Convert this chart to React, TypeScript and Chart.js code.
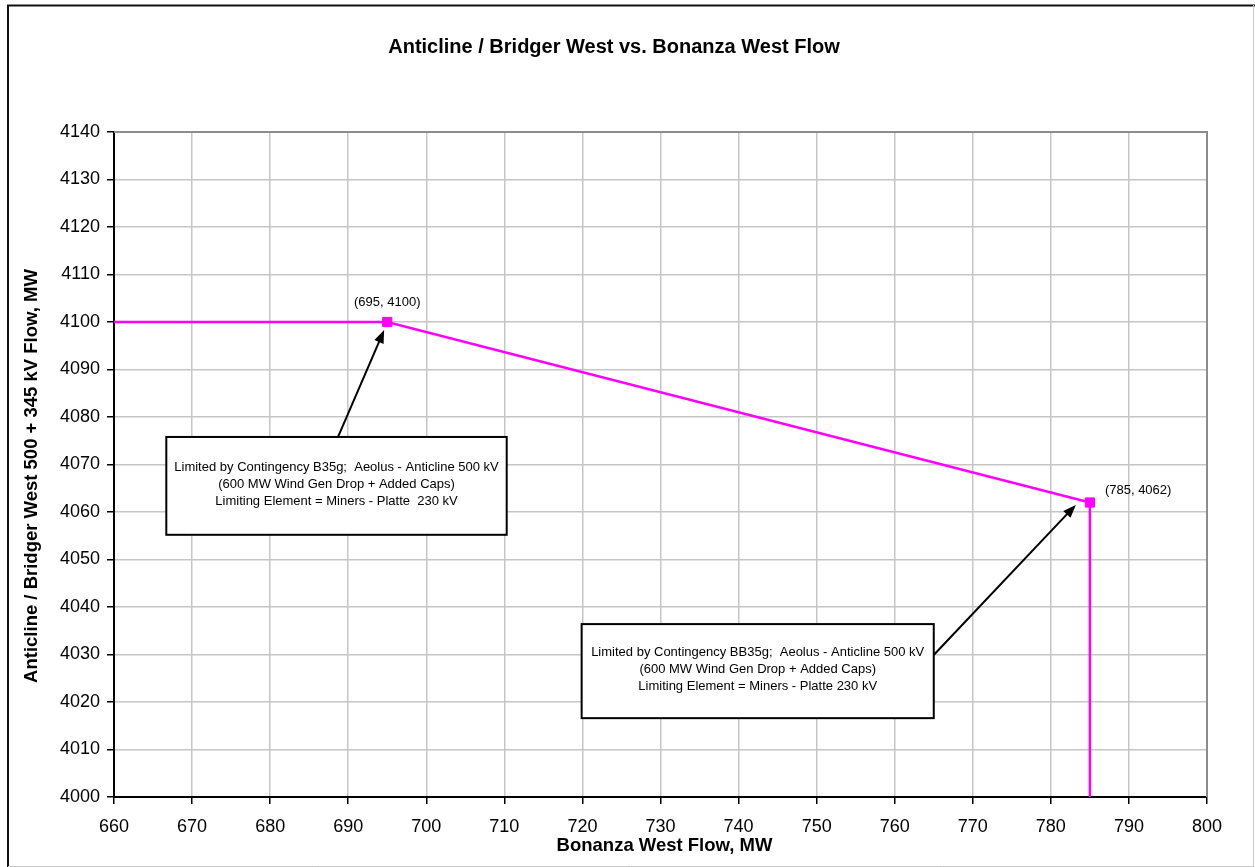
import React, { useEffect, useRef } from "react";
import { Chart, registerables } from "chart.js";

Chart.register(...registerables);

// ---------------- data ----------------
const chartTitle = "Anticline / Bridger West vs. Bonanza West Flow";
const xAxisTitle = "Bonanza West Flow, MW";
const yAxisTitle = "Anticline / Bridger West 500 + 345 kV Flow, MW";

const flowX = [660, 695, 785, 785];
const flowY = [4100, 4100, 4062, 4000];
const markerShown = [false, true, true, false];

const xTickValues = [660, 670, 680, 690, 700, 710, 720, 730, 740, 750, 760, 770, 780, 790, 800];
const yTickValues = [4000, 4010, 4020, 4030, 4040, 4050, 4060, 4070, 4080, 4090, 4100, 4110, 4120, 4130, 4140];

const pointLabelTexts = ["(695, 4100)", "(785, 4062)"];
const pointLabelX = [695, 785];
const pointLabelY = [4100, 4062];

const note1Lines = [
  "Limited by Contingency B35g;  Aeolus - Anticline 500 kV",
  "(600 MW Wind Gen Drop + Added Caps)",
  "Limiting Element = Miners - Platte  230 kV",
];
const note2Lines = [
  "Limited by Contingency BB35g;  Aeolus - Anticline 500 kV",
  "(600 MW Wind Gen Drop + Added Caps)",
  "Limiting Element = Miners - Platte 230 kV",
];

// ---------------- annotation placement (data units) ----------------
const noteBoxes = [
  { x0: 666.7, x1: 710.3, y0: 4055.2, y1: 4075.8, lines: note1Lines },
  { x0: 719.9, x1: 765.0, y0: 4016.6, y1: 4036.4, lines: note2Lines },
];
const noteArrows = [
  { fx: 688.7, fy: 4075.8, tx: 694.6, ty: 4098.3 },
  { fx: 765.0, fy: 4029.9, tx: 783.2, ty: 4061.5 },
];
const pointLabelStyle = [
  { dx: 0, dy: -20, align: "center" as CanvasTextAlign },
  { dx: 15, dy: -12, align: "left" as CanvasTextAlign },
];

const FONT = '"Liberation Sans", Arial, Helvetica, sans-serif';
const MAGENTA = "#ff00ff";

const decorPlugin = {
  id: "decor",
  beforeDraw(chart: any) {
    const ctx: CanvasRenderingContext2D = chart.ctx;
    const W = chart.width;
    const H = chart.height;
    ctx.save();
    ctx.fillStyle = "#ffffff";
    ctx.fillRect(0, 0, W, H);
    // outer frame
    ctx.strokeStyle = "#111";
    ctx.lineWidth = 2;
    ctx.beginPath();
    ctx.moveTo(8, H);
    ctx.lineTo(8, 5.5);
    ctx.lineTo(W, 5.5);
    ctx.stroke();
    ctx.strokeStyle = "#c8c8c8";
    ctx.lineWidth = 1;
    ctx.beginPath();
    ctx.moveTo(1253.5, 5);
    ctx.lineTo(1253.5, H);
    ctx.moveTo(8, 866.5);
    ctx.lineTo(1253.5, 866.5);
    ctx.stroke();
    ctx.restore();
  },
  afterDraw(chart: any) {
    const ctx: CanvasRenderingContext2D = chart.ctx;
    const { left, right, top, bottom } = chart.chartArea;
    const xs = chart.scales.x;
    const ys = chart.scales.y;
    ctx.save();

    // plot frame top/right (gray)
    ctx.strokeStyle = "#8c8c8c";
    ctx.lineWidth = 2;
    ctx.beginPath();
    ctx.moveTo(left, top);
    ctx.lineTo(right, top);
    ctx.lineTo(right, bottom);
    ctx.stroke();

    // titles
    ctx.fillStyle = "#000";
    ctx.textAlign = "center";
    ctx.textBaseline = "middle";
    ctx.font = `bold 20px ${FONT}`;
    ctx.fillText(chartTitle, 614, 47);
    ctx.font = `bold 18.5px ${FONT}`;
    ctx.fillText(xAxisTitle, (left + right) / 2 + 4, 846);
    ctx.save();
    ctx.translate(32, 476);
    ctx.rotate(-Math.PI / 2);
    ctx.fillText(yAxisTitle, 0, 0);
    ctx.restore();

    // arrows
    noteArrows.forEach((a) => {
      const x1 = xs.getPixelForValue(a.fx);
      const y1 = ys.getPixelForValue(a.fy);
      const x2 = xs.getPixelForValue(a.tx);
      const y2 = ys.getPixelForValue(a.ty);
      const ang = Math.atan2(y2 - y1, x2 - x1);
      const headLen = 13;
      const headHalf = 5;
      ctx.strokeStyle = "#000";
      ctx.fillStyle = "#000";
      ctx.lineWidth = 2;
      ctx.beginPath();
      ctx.moveTo(x1, y1);
      ctx.lineTo(x2 - Math.cos(ang) * headLen * 0.8, y2 - Math.sin(ang) * headLen * 0.8);
      ctx.stroke();
      ctx.beginPath();
      ctx.moveTo(x2, y2);
      ctx.lineTo(
        x2 - Math.cos(ang) * headLen + Math.sin(ang) * headHalf,
        y2 - Math.sin(ang) * headLen - Math.cos(ang) * headHalf
      );
      ctx.lineTo(
        x2 - Math.cos(ang) * headLen - Math.sin(ang) * headHalf,
        y2 - Math.sin(ang) * headLen + Math.cos(ang) * headHalf
      );
      ctx.closePath();
      ctx.fill();
    });

    // note boxes
    noteBoxes.forEach((b) => {
      const l = xs.getPixelForValue(b.x0);
      const r = xs.getPixelForValue(b.x1);
      const t = ys.getPixelForValue(b.y1);
      const btm = ys.getPixelForValue(b.y0);
      ctx.fillStyle = "#fff";
      ctx.fillRect(l, t, r - l, btm - t);
      ctx.strokeStyle = "#000";
      ctx.lineWidth = 2;
      ctx.strokeRect(l, t, r - l, btm - t);
      ctx.fillStyle = "#000";
      ctx.font = `13px ${FONT}`;
      ctx.textAlign = "center";
      ctx.textBaseline = "middle";
      const cx = (l + r) / 2;
      const cy = (t + btm) / 2 - 1.5;
      const gap = 17.2;
      b.lines.forEach((line, i) => {
        ctx.fillText(line, cx, cy + (i - (b.lines.length - 1) / 2) * gap);
      });
    });

    // point labels
    ctx.font = `13px ${FONT}`;
    ctx.fillStyle = "#000";
    ctx.textBaseline = "middle";
    pointLabelTexts.forEach((txt, i) => {
      const px = xs.getPixelForValue(pointLabelX[i]);
      const py = ys.getPixelForValue(pointLabelY[i]);
      ctx.textAlign = pointLabelStyle[i].align;
      ctx.fillText(txt, px + pointLabelStyle[i].dx, py + pointLabelStyle[i].dy);
    });

    ctx.restore();
  },
};

export default function App() {
  const canvasRef = useRef<HTMLCanvasElement | null>(null);

  useEffect(() => {
    if (!canvasRef.current) return;
    const points = flowX.map((x, i) => ({ x, y: flowY[i] }));
    const chart = new Chart(canvasRef.current, {
      type: "scatter",
      data: {
        datasets: [
          {
            label: "Limit",
            data: points,
            showLine: true,
            borderColor: MAGENTA,
            backgroundColor: MAGENTA,
            borderWidth: 2.5,
            pointStyle: "rect",
            pointRadius: markerShown.map((m) => (m ? 6.5 : 0)),
            pointBorderWidth: 1,
            pointBorderColor: MAGENTA,
            pointBackgroundColor: MAGENTA,
            pointHoverRadius: 0,
            tension: 0,
          } as any,
        ],
      },
      options: {
        responsive: false,
        animation: false,
        devicePixelRatio: 1,
        layout: { padding: { top: 132, right: 48, left: 0, bottom: 0 } },
        plugins: {
          legend: { display: false },
          title: { display: false },
          tooltip: { enabled: false },
        },
        scales: {
          x: {
            type: "linear",
            min: 660,
            max: 800,
            afterBuildTicks: (scale: any) => {
              scale.ticks = xTickValues.map((v) => ({ value: v }));
            },
            afterFit: (scale: any) => {
              scale.height = 70;
            },
            ticks: {
              color: "#000",
              font: { family: FONT, size: 18 },
              padding: 12,
              maxRotation: 0,
              autoSkip: false,
              callback: (v: any) => String(v),
            },
            grid: {
              color: "#c6c6c6",
              lineWidth: 1.5,
              tickColor: "#000",
              tickLength: 7,
              tickWidth: 1.5,
            },
            border: { display: true, color: "#000", width: 2 },
            title: { display: false },
          },
          y: {
            type: "linear",
            min: 4000,
            max: 4140,
            afterBuildTicks: (scale: any) => {
              scale.ticks = yTickValues.map((v) => ({ value: v }));
            },
            afterFit: (scale: any) => {
              scale.width = 114;
            },
            ticks: {
              color: "#000",
              font: { family: FONT, size: 18 },
              padding: 7,
              autoSkip: false,
              callback: (v: any) => String(v),
            },
            grid: {
              color: "#c6c6c6",
              lineWidth: 1.5,
              tickColor: "#000",
              tickLength: 7,
              tickWidth: 1.5,
            },
            border: { display: true, color: "#000", width: 2 },
            title: { display: false },
          },
        },
      },
      plugins: [decorPlugin],
    });
    return () => chart.destroy();
  }, []);

  return (
    <div style={{ position: "absolute", left: 0, top: 0, width: 1255, height: 867 }}>
      <canvas
        ref={canvasRef}
        width={1255}
        height={867}
        style={{ display: "block", width: 1255, height: 867 }}
      />
    </div>
  );
}
